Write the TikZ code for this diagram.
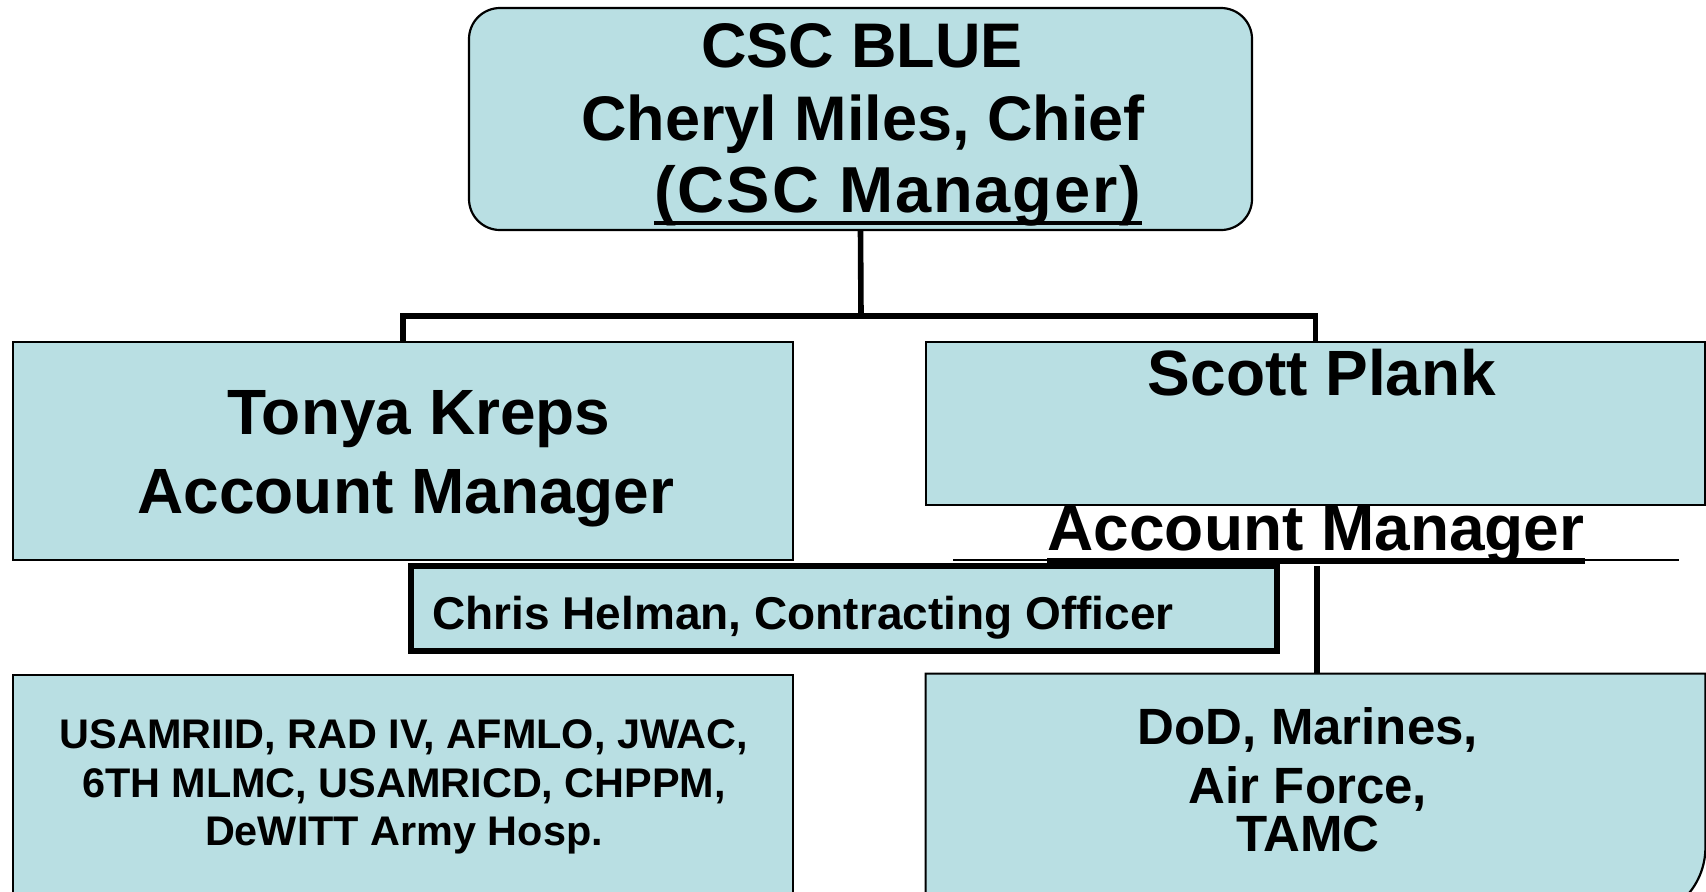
\documentclass[tikz,border=0pt]{standalone}
\usepackage{fontspec}
\setmainfont{Liberation Sans}
\definecolor{chartblue}{RGB}{185,223,227}
\tikzset{
    orgbox/.style={draw, fill=chartblue, line width=1.1pt, inner sep=0pt},
    wire/.style={line width=2.8pt},
    txt/.style={anchor=base, inner sep=0pt, font=\bfseries\fontsize{#1}{#1}\selectfont},
}

\begin{document}
\begin{tikzpicture}[x=0.5pt, y=-0.5pt]
    \useasboundingbox (0,0) rectangle (1706,891);
    % boxes
    \node[orgbox, rounded corners=15.5pt, minimum width=391.5pt, minimum height=111pt] (blue) at (860.5,119) {};
    \node[orgbox, minimum width=390pt, minimum height=109pt] (tonya) at (403,451) {};
    \node[orgbox, minimum width=389.5pt, minimum height=81.5pt] (scott) at (1315.5,423.5) {};
    \node[orgbox, line width=3.2pt, minimum width=433pt, minimum height=42.5pt] (chris) at (844,608.5) {};
    \node[orgbox, minimum width=390pt, minimum height=115pt] (sites) at (403,790) {};
    \node[inner sep=0pt, minimum width=389.5pt, minimum height=122.5pt] (dod) at (1315.5,796.5) {};
    \draw[orgbox] (dod.north west) -- (dod.north east) [rounded corners=36pt] -- (dod.south east) [sharp corners] -- (dod.south west) -- cycle;
    % connectors
    \coordinate (bus) at (861,316);
    \coordinate (drop) at (1317,566);
    \draw[wire] (blue.south) -- (bus);
    \draw[wire] (tonya.north) |- (bus) -| (scott.north);
    \draw[wire] (drop) -- (drop |- dod.north);
    % texts
    \node[txt=31.5] (bluename) at (862,67) {CSC BLUE};
    \node[txt=31.5] (bluechief) at (863,140) {Cheryl Miles, Chief};
    \node[txt=32.5] (bluerole) at (898,212) {\addfontfeatures{LetterSpace=3}(CSC Manager)};
    \draw[line width=1.6pt] ([yshift=-5.5pt]bluerole.base west) -- ([yshift=-5.5pt]bluerole.base east);
    \node[txt=32] (tonyaname) at (419,434) {Tonya Kreps};
    \node[txt=32] (tonyarole) at (406,513) {Account Manager};
    \node[txt=32] (scottname) at (1322,395) {Scott Plank};
    \node[txt=32] (scottrole) at (1316,550) {Account Manager};
    \draw[line width=1pt] ([xshift=-47pt, yshift=-5pt]scottrole.base west) -- ([xshift=47pt, yshift=-5pt]scottrole.base east);
    \draw[line width=3pt] ([yshift=-5.5pt]scottrole.base west) -- ([yshift=-5.5pt]scottrole.base east);
    \node[txt=23, anchor=base west] (chrisname) at (432,629) {Chris Helman, Contracting Officer};
    \foreach \line/\yy [count=\i] in {{USAMRIID, RAD IV, AFMLO, JWAC,}/748, {6TH MLMC, USAMRICD, CHPPM,}/797, {DeWITT Army Hosp.}/845}
        \node[txt=20.7] (site\i) at (404,\yy) {\line};
    \foreach \line/\yy [count=\i] in {{DoD, Marines,}/744, {Air Force,}/803, TAMC/851}
        \node[txt=25.5] (dodline\i) at (1308,\yy) {\line};
\end{tikzpicture}
\end{document}
